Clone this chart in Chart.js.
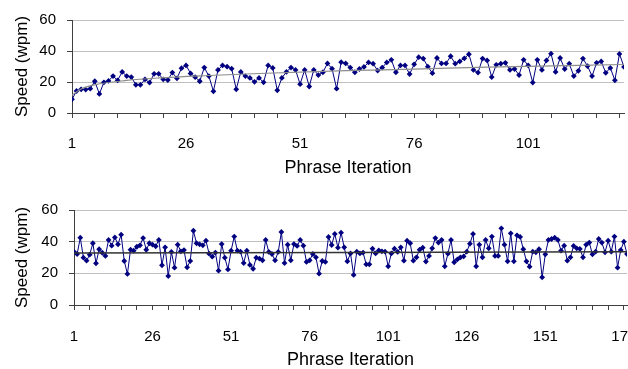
<!DOCTYPE html>
<html>
<head>
<meta charset="utf-8">
<script src="https://cdn.jsdelivr.net/npm/chart.js@4/dist/chart.umd.min.js"></script>
<style>
  html, body { margin: 0; padding: 0; background: #fff; overflow: hidden; }
  #wrap { position: relative; width: 628px; height: 369px; overflow: hidden; }
  canvas { position: absolute; left: 0; }
  #top { top: 0; }
  #bottom { top: 185px; }
</style>
</head>
<body>
<div id="wrap">
  <canvas id="top" width="628" height="185"></canvas>
  <canvas id="bottom" width="660" height="190"></canvas>
</div>
<script>
// speed per phrase, first session
const topSpeed = [
  8.8, 14.2, 15.3, 15.1, 15.7, 20.5, 12.3, 19.8, 20.7, 23.8,
  21.1, 26.5, 23.8, 23.2, 18.2, 18.2, 21.7, 19.6, 25.3, 25.3,
  21.7, 21.3, 26.1, 22.4, 28.9, 30.7, 25.5, 23.2, 20.5, 29.3,
  23.8, 14.0, 27.8, 30.7, 29.9, 28.6, 15.3, 26.5, 23.8, 22.6,
  20.1, 22.6, 19.8, 30.7, 29.1, 14.6, 22.6, 26.5, 29.3, 27.8,
  18.6, 27.8, 17.1, 27.8, 24.5, 26.3, 32.0, 28.6, 15.7, 32.8,
  32.0, 29.3, 26.3, 28.4, 29.7, 32.6, 31.8, 27.4, 29.3, 32.6,
  34.3, 26.3, 30.7, 30.7, 25.1, 31.4, 36.0, 35.1, 29.9, 25.7,
  35.5, 32.0, 32.0, 36.6, 31.8, 33.3, 35.3, 37.9, 27.8, 26.1,
  35.1, 33.9, 23.2, 31.1, 31.8, 32.4, 27.8, 28.4, 24.5, 34.3,
  30.7, 19.6, 34.3, 27.8, 33.9, 38.3, 26.5, 35.5, 28.4, 31.8,
  23.8, 27.2, 35.1, 30.3, 23.8, 32.4, 33.3, 25.9, 29.1, 21.1,
  38.1, 29.7
];
// logarithmic trend line of the first session, read at a few iterations
const topTrendX = [1, 3, 6, 13, 20, 31, 42, 61, 76, 92, 122];
const topTrendY = [11.5, 15.5, 18.2, 21.0, 22.6, 24.2, 25.5, 27.3, 28.3, 29.6, 31.3];

// speed per phrase, second session
const bottomSpeed = [
  33.7, 32.2, 42.5, 29.9, 28.0, 31.8, 39.0, 26.3, 35.2, 33.0,
  31.0, 41.1, 37.5, 42.7, 38.3, 44.4, 27.8, 19.6, 34.9, 34.3,
  36.8, 37.7, 42.3, 34.9, 39.0, 38.1, 37.1, 41.1, 25.1, 36.4,
  18.3, 33.5, 23.6, 38.1, 33.9, 34.7, 23.8, 27.8, 46.9, 39.0,
  38.3, 37.7, 40.6, 32.4,
  30.5, 33.1, 21.7, 38.5, 29.9, 22.5, 34.3, 43.2, 34.3, 33.7,
  26.5, 34.3, 25.3, 22.9, 29.9, 29.3, 28.2, 41.1, 33.5, 32.2,
  28.2, 33.5, 46.1, 26.5, 38.1, 28.2, 38.5, 37.3, 41.1, 37.5,
  27.2, 28.2, 32.2, 30.1, 19.8, 27.8, 27.2, 43.0, 37.9, 44.9,
  36.2, 45.7, 36.4, 27.6, 32.6,
  19.0, 33.7, 32.6, 33.1, 25.7, 25.7, 35.6, 32.6, 34.5, 33.9,
  33.7, 24.4, 32.6, 35.6, 33.5, 36.4, 28.0, 40.6, 39.0, 28.0,
  30.1, 34.9, 36.2, 27.4, 31.0, 35.8, 42.3, 39.4, 41.1, 24.4,
  32.4, 41.1, 27.0, 28.8, 30.1, 30.7, 33.7, 38.7, 44.9, 24.4,
  38.1, 30.1, 41.1, 35.8,
  43.2, 31.0, 31.0, 48.4, 38.1, 27.6, 45.3, 27.6, 44.0, 43.0,
  35.2, 27.6, 24.2, 33.7, 33.3, 35.2, 17.5, 32.0, 41.1, 41.7,
  42.5, 41.1, 34.3, 37.5, 28.0, 30.1, 37.3, 35.8, 35.4, 30.1,
  38.1, 39.4, 32.0, 33.7, 41.7, 39.4, 33.3, 40.6, 33.7, 43.2,
  23.6, 34.7, 40.0, 32.2
];
const bottomTrendX = [1, 177];
const bottomTrendY = [32.8, 33.6];

const topTickLabels = [1, 26, 51, 76, 101];
const bottomTickLabels = [1, 26, 51, 76, 101, 126, 151, 176];
const yTicks = [0, 20, 40, 60];

const FONT = "'Liberation Sans', Arial, sans-serif";
const AXIS = '#404040';

function toPoints(xs, ys) {
  return ys.map((y, i) => ({ x: xs ? xs[i] : i + 1, y: y }));
}

function makeChart(id, speed, trendX, trendY, trendColor, trendWidth, labels, o) {
  const n = speed.length;
  const marks = [];
  for (let v = 1; v <= n; v += 5) marks.push(v);
  return new Chart(document.getElementById(id), {
    type: 'line',
    data: {
      datasets: [
        {
          data: toPoints(null, speed),
          borderColor: '#000080',
          backgroundColor: '#000080',
          borderWidth: 1,
          pointStyle: 'rectRot',
          pointRadius: 2.9,
          pointBorderWidth: 0,
          pointBackgroundColor: '#000080',
          order: 1
        },
        {
          data: toPoints(trendX, trendY),
          borderColor: trendColor,
          borderWidth: trendWidth,
          pointRadius: 0,
          cubicInterpolationMode: 'monotone',
          order: 0
        }
      ]
    },
    options: {
      responsive: false,
      animation: false,
      events: [],
      layout: { padding: { top: o.padTop, right: o.padRight, left: 0, bottom: 0 } },
      plugins: { legend: { display: false }, tooltip: { enabled: false } },
      scales: {
        x: {
          type: 'linear',
          min: 1,
          max: n,
          afterBuildTicks: (s) => { s.ticks = marks.map(v => ({ value: v })); },
          afterFit: (s) => { s.height = o.xHeight; s.paddingRight = 0; s.paddingLeft = 0; },
          ticks: {
            autoSkip: false,
            maxRotation: 0,
            minRotation: 0,
            padding: o.xTickPad,
            color: '#000',
            font: { family: FONT, size: 15 },
            callback: (v) => labels.includes(v) ? String(v) : ''
          },
          grid: { drawOnChartArea: false, tickLength: 5, tickColor: AXIS, tickWidth: 1 },
          border: { color: AXIS, width: 1 },
          title: {
            display: true,
            text: 'Phrase Iteration',
            color: '#000',
            font: { family: FONT, size: 18 },
            padding: { top: 0, bottom: o.xTitlePad }
          }
        },
        y: {
          min: 0,
          max: 60,
          afterBuildTicks: (s) => { s.ticks = yTicks.map(v => ({ value: v })); },
          afterFit: (s) => { s.width = o.yWidth; },
          ticks: {
            padding: 11,
            color: '#000',
            font: { family: FONT, size: 15 }
          },
          grid: { color: '#c0c0c0', lineWidth: 1, tickLength: 5, tickColor: AXIS },
          border: { color: AXIS, width: 1 },
          title: {
            display: true,
            text: 'Speed (wpm)',
            color: '#000',
            font: { family: FONT, size: 17 },
            padding: { top: 12, bottom: 0 }
          }
        }
      }
    }
  });
}

makeChart('top', topSpeed, topTrendX, topTrendY, '#8c8c8c', 1.2, topTickLabels,
  { padTop: 18, padRight: 2, xHeight: 72, xTickPad: 17, xTitlePad: 6, yWidth: 72 });
makeChart('bottom', bottomSpeed, bottomTrendX, bottomTrendY, '#333333', 1.6, bottomTickLabels,
  { padTop: 25, padRight: 33, xHeight: 70, xTickPad: 18, xTitlePad: 4, yWidth: 74 });
</script>
</body>
</html>
